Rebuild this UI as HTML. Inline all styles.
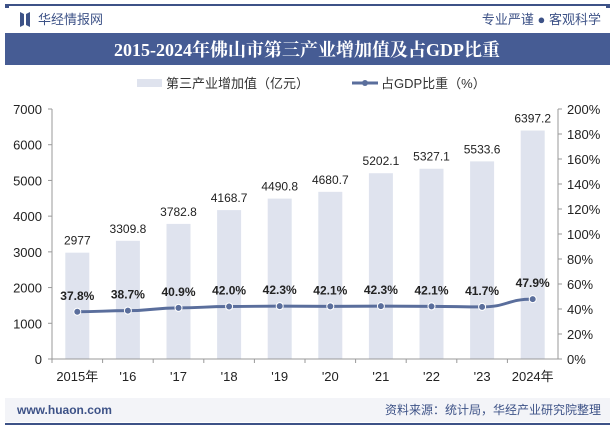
<!DOCTYPE html>
<html><head><meta charset="utf-8"><style>
body{margin:0;width:615px;height:427px;overflow:hidden;background:#fff;font-family:"Liberation Sans","Noto Sans CJK SC",sans-serif;}
</style></head><body>
<svg id="chart" width="615" height="427" xmlns="http://www.w3.org/2000/svg">
<rect x="0" y="0" width="615" height="427" fill="#fff"/>
<rect x="5" y="4" width="605" height="2" fill="#3d5287"/>
<rect x="5" y="4" width="4" height="4" fill="#3d5287"/>
<rect x="606" y="4" width="4" height="4" fill="#3d5287"/>
<g><path d="M20 12 L24 14 L24 25 L20 27 Z M26 14 L30 12 L30 27 L26 25 Z" fill="#3d5287"/></g>
<text x="38" y="24" font-size="13" fill="#3d5287">华经情报网</text>
<text x="601" y="24" font-size="13" fill="#3d5287" text-anchor="end">专业严谨 ● 客观科学</text>
<rect x="5" y="33" width="605" height="32" fill="#465c94"/>
<text x="307" y="56" font-size="18" font-weight="bold" fill="#fff" text-anchor="middle" font-family="Liberation Serif,Noto Serif CJK SC,serif">2015-2024年佛山市第三产业增加值及占GDP比重</text>
<g>
<rect x="137" y="79" width="25" height="8" fill="#dfe3ee"/>
<text x="166" y="88" font-size="13" fill="#333">第三产业增加值（亿元）</text>
<line x1="352" y1="83" x2="378" y2="83" stroke="#5a6e9c" stroke-width="3"/>
<circle cx="365" cy="83" r="3" fill="#5a6e9c"/>
<text x="381" y="88" font-size="13" fill="#333">占GDP比重（%）</text>
</g>
<g id="plot"></g>
<rect x="5" y="398" width="605" height="24" fill="#f3f4f8"/>
<text x="17" y="414" font-size="12" font-weight="bold" fill="#3d5287">www.huaon.com</text>
<text x="601" y="414" font-size="12" fill="#3d5287" text-anchor="end">资料来源：统计局，华经产业研究院整理</text>
<rect x="5" y="423" width="605" height="2" fill="#3d5287"/>
</svg>
<script>
const categories=["2015年","'16","'17","'18","'19","'20","'21","'22","'23","2024年"];
const values=[2977,3309.8,3782.8,4168.7,4490.8,4680.7,5202.1,5327.1,5533.6,6397.2];
const valueLabels=["2977","3309.8","3782.8","4168.7","4490.8","4680.7","5202.1","5327.1","5533.6","6397.2"];
const shares=[37.8,38.7,40.9,42.0,42.3,42.1,42.3,42.1,41.7,47.9];
const leftTicks=[0,1000,2000,3000,4000,5000,6000,7000];
const rightTicks=[0,20,40,60,80,100,120,140,160,180,200];
const NS="http://www.w3.org/2000/svg";
const g=document.getElementById('plot');
const X0=52,X1=558,Y0=359,Y1=109;
const band=(X1-X0)/categories.length;
const xc=i=>X0+band*(i+0.5);
const yL=v=>Y0-(v/7000)*(Y0-Y1);
const yR=v=>Y0-(v/200)*(Y0-Y1);
function mk(t,a){const e=document.createElementNS(NS,t);for(const k in a)e.setAttribute(k,a[k]);g.appendChild(e);return e;}
values.forEach((v,i)=>{
 const r=mk('rect',{x:xc(i)-12,y:yL(v),width:24,height:Y0-yL(v),fill:'#dfe3ee'});
 
 
 const t=mk('text',{x:xc(i),y:yL(v)-8,'font-size':12,fill:'#222','text-anchor':'middle'});t.textContent=valueLabels[i];
 
 
});
let ax=mk('line',{x1:X0,y1:Y1,x2:X0,y2:Y0,stroke:'#999'});


ax=mk('line',{x1:X1,y1:Y1,x2:X1,y2:Y0,stroke:'#999'});


ax=mk('line',{x1:X0,y1:Y0,x2:X1,y2:Y0,stroke:'#999'});


leftTicks.forEach(v=>{
 mk('line',{x1:X0-4,y1:yL(v),x2:X0,y2:yL(v),stroke:'#999'});
 const t=mk('text',{x:X0-10,y:yL(v)+5,'font-size':13,fill:'#222','text-anchor':'end'});t.textContent=v;
 
 
});
rightTicks.forEach(v=>{
 mk('line',{x1:X1,y1:yR(v),x2:X1+4,y2:yR(v),stroke:'#999'});
 const t=mk('text',{x:X1+9,y:yR(v)+5,'font-size':13,fill:'#222'});t.textContent=v+'%';
 
 
});
categories.forEach((c,i)=>{
 mk('line',{x1:X0+band*i,y1:Y0,x2:X0+band*i,y2:Y0+4,stroke:'#999'});
 const t=mk('text',{x:xc(i),y:Y0+22,'font-size':13,fill:'#222','text-anchor':'middle'});t.textContent=c;
 
 
});
let d='M'+xc(0)+' '+yR(shares[0]);
for(let i=1;i<shares.length;i++){const px=xc(i-1),py=yR(shares[i-1]),cx=xc(i),cy=yR(shares[i]);d+=` C${px+band/2} ${py} ${cx-band/2} ${cy} ${cx} ${cy}`;}
const line=mk('path',{d:d,fill:'none',stroke:'#5a6e9c','stroke-width':3});


shares.forEach((s,i)=>{
 const c=mk('circle',{cx:xc(i),cy:yR(s),r:3.5,fill:'#5a6e9c',stroke:'#fff','stroke-width':1});
 
 
 const t=mk('text',{x:xc(i),y:yR(s)-12,'font-size':12,'font-weight':'bold',fill:'#222','text-anchor':'middle'});t.textContent=s.toFixed(1)+'%';
 
 
});
</script>
</body></html>
